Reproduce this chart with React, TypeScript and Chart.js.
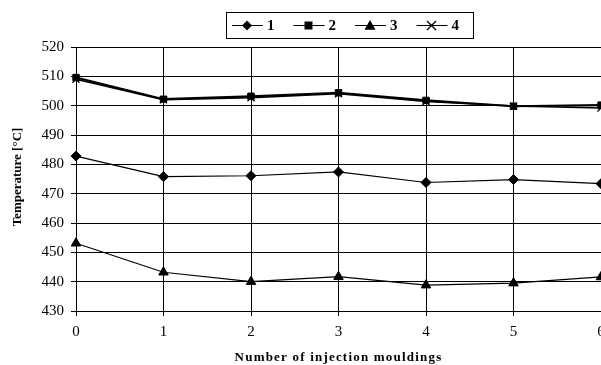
import React, { useEffect, useRef } from "react";
import { Chart, registerables } from "chart.js";

Chart.register(...registerables);

const categories = ["0", "1", "2", "3", "4", "5", "6"];
const series1 = [482.8, 475.8, 476.1, 477.4, 473.8, 474.8, 473.4];
const series2 = [509.6, 502.2, 503.2, 504.4, 501.8, 499.8, 500.2];
const series3 = [453.1, 443.2, 440.0, 441.7, 438.8, 439.5, 441.6];
const series4 = [509.0, 502.0, 502.7, 504.1, 501.4, 499.9, 499.2];
const seriesLabels = ["1", "2", "3", "4"];
const yTitle = "Temperature [°C]";
const xTitle = "Number of injection mouldings";

const SERIF = "'Liberation Serif', 'Times New Roman', serif";

function drawMarker(ctx: CanvasRenderingContext2D, style: string, x: number, y: number) {
  ctx.save();
  ctx.fillStyle = "#000";
  ctx.strokeStyle = "#000";
  ctx.lineWidth = 1.3;
  ctx.beginPath();
  if (style === "rectRot") {
    const r = 5;
    ctx.moveTo(x, y - r);
    ctx.lineTo(x + r, y);
    ctx.lineTo(x, y + r);
    ctx.lineTo(x - r, y);
    ctx.closePath();
    ctx.fill();
  } else if (style === "rect") {
    const r = 4;
    ctx.rect(x - r, y - r, 2 * r, 2 * r);
    ctx.fill();
  } else if (style === "triangle") {
    const r = 5.5;
    ctx.moveTo(x, y - r);
    ctx.lineTo(x + r, y + r * 0.75);
    ctx.lineTo(x - r, y + r * 0.75);
    ctx.closePath();
    ctx.fill();
  } else {
    const r = 4.5;
    ctx.moveTo(x - r, y - r);
    ctx.lineTo(x + r, y + r);
    ctx.moveTo(x + r, y - r);
    ctx.lineTo(x - r, y + r);
    ctx.stroke();
  }
  ctx.restore();
}

const decorPlugin = {
  id: "decor",
  afterDraw(chart: any) {
    const ctx: CanvasRenderingContext2D = chart.ctx;
    const area = chart.chartArea;
    ctx.save();
    // legend box
    const bx = 226, by = 12, bw = 247, bh = 26;
    ctx.fillStyle = "#fff";
    ctx.fillRect(bx, by, bw, bh);
    ctx.strokeStyle = "#000";
    ctx.lineWidth = 1;
    ctx.strokeRect(bx + 0.5, by + 0.5, bw, bh);
    const cy = by + bh / 2 + 0.5;
    chart.data.datasets.forEach((ds: any, i: number) => {
      const cx = 247 + i * 61.5;
      ctx.strokeStyle = "#000";
      ctx.lineWidth = 1;
      ctx.beginPath();
      ctx.moveTo(cx - 15, cy);
      ctx.lineTo(cx + 16, cy);
      ctx.stroke();
      drawMarker(ctx, ds.pointStyle, cx, cy);
      ctx.fillStyle = "#000";
      ctx.font = "bold 15px " + SERIF;
      ctx.textAlign = "left";
      ctx.textBaseline = "middle";
      ctx.fillText(ds.label, cx + 20, cy + 1);
    });
    // x title
    ctx.fillStyle = "#000";
    ctx.font = "bold 13px " + SERIF;
    (ctx as any).letterSpacing = "1.2px";
    ctx.textAlign = "center";
    ctx.textBaseline = "middle";
    ctx.fillText(xTitle, (area.left + area.right) / 2, 358);
    (ctx as any).letterSpacing = "0px";
    // y title
    ctx.translate(18, (area.top + area.bottom) / 2 - 2);
    ctx.rotate(-Math.PI / 2);
    ctx.font = "bold 13px " + SERIF;
    ctx.fillText(yTitle, 0, 0);
    ctx.restore();
  },
};

export default function App() {
  const ref = useRef<HTMLCanvasElement | null>(null);
  useEffect(() => {
    if (!ref.current) return;
    const mk = (label: string, data: number[], style: string, radius: number, width: number) => ({
      label,
      data,
      borderColor: "#000",
      backgroundColor: "#000",
      borderWidth: width,
      pointStyle: style,
      pointRadius: radius,
      pointBorderWidth: style === "crossRot" ? 1.3 : 1,
      pointBackgroundColor: "#000",
      pointBorderColor: "#000",
      tension: 0,
      fill: false,
    });
    const chart = new Chart(ref.current, {
      type: "line",
      data: {
        labels: categories,
        datasets: [
          mk(seriesLabels[0], series1, "rectRot", 5, 1.2),
          mk(seriesLabels[1], series2, "rect", 4.5, 2.2),
          mk(seriesLabels[2], series3, "triangle", 5.5, 1.2),
          mk(seriesLabels[3], series4, "crossRot", 5, 1.6),
        ],
      },
      options: {
        responsive: false,
        animation: false,
        devicePixelRatio: 1,
        layout: { padding: { top: 47, right: 39, left: 0, bottom: 0 } },
        plugins: {
          legend: { display: false },
          tooltip: { enabled: false },
          title: { display: false },
        },
        scales: {
          x: {
            type: "category",
            offset: false,
            grid: { color: "#000", lineWidth: 1, tickLength: 5, offset: false },
            border: { color: "#000", width: 1 },
            ticks: {
              color: "#000",
              font: { family: SERIF, size: 15 },
              padding: 7,
              maxRotation: 0,
              autoSkip: false,
            },
            afterFit: (s: any) => {
              s.height = 54;
            },
          },
          y: {
            min: 430,
            max: 520,
            ticks: {
              stepSize: 10,
              color: "#000",
              font: { family: SERIF, size: 15 },
              padding: 7,
            },
            grid: { color: "#000", lineWidth: 1, tickLength: 5 },
            border: { color: "#000", width: 1 },
            afterFit: (s: any) => {
              s.width = 76;
            },
          },
        },
      },
      plugins: [decorPlugin],
    } as any);
    return () => chart.destroy();
  }, []);
  return (
    <div
      style={{
        position: "fixed",
        left: 0,
        top: 0,
        width: 601,
        height: 365,
        overflow: "hidden",
        background: "#fff",
      }}
    >
      <canvas ref={ref} width={640} height={365} style={{ width: 640, height: 365, display: "block" }} />
    </div>
  );
}
